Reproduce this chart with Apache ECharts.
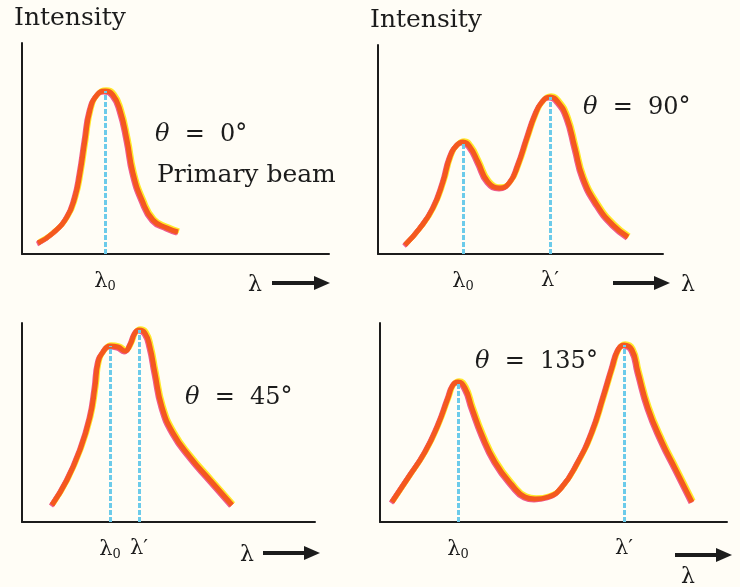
<!DOCTYPE html>
<html>
<head>
<meta charset="utf-8">
<title>Compton scattering spectra</title>
<script src="https://cdn.jsdelivr.net/npm/echarts@6/dist/echarts.min.js"></script>
<style>
  html, body { margin: 0; padding: 0; background: #fffdf6; }
  #chart { width: 740px; height: 587px; }
</style>
</head>
<body>
<div id="chart"></div>
<script>
// wavelength / intensity (arbitrary units)
const lambda0deg = [16, 31, 45, 53, 58, 63, 68, 75, 83, 91, 98, 105, 111, 120, 131, 145, 156]
const intensity0deg = [11, 21, 37, 57, 81, 114, 144, 159, 163, 159, 144, 114, 81, 54, 34, 26, 22]

const lambda90deg = [27, 42, 55, 65, 72, 79, 85, 92, 100, 110, 122, 132, 140, 149, 157, 164, 172, 180, 189, 197, 205, 219, 235, 250]
const intensity90deg = [9, 26, 46, 72, 97, 109, 112, 107, 92, 72, 66, 72, 89, 116, 139, 152, 157, 152, 136, 106, 76, 49, 29, 17]

const lambda45deg = [30, 45, 58, 68, 73, 76, 81, 88, 96, 103, 108, 113, 117, 123, 128, 133, 140, 151, 168, 188, 210]
const intensity45deg = [17, 42, 72, 105, 135, 159, 170, 176, 175, 171, 177, 189, 192, 189, 175, 149, 115, 89, 65, 42, 17]

const lambda135deg = [12, 28, 45, 58, 68, 73, 78, 85, 92, 102, 115, 132, 145, 155, 168, 182, 198, 212, 223, 232, 238, 244, 252, 258, 268, 282, 295, 312]
const intensity135deg = [20, 44, 70, 97, 124, 137, 140, 134, 114, 87, 60, 37, 25, 23, 25, 35, 60, 90, 124, 154, 172, 177, 172, 150, 114, 80, 54, 20]

// peak positions (dashed lines) and their tick labels
const peaks0deg = [83]
const peaks90deg = [85, 172]
const peaks45deg = [88, 117]
const peaks135deg = [78, 244]
const peakLabels1 = ['lambda0']
const peakLabels2 = ['lambda0', 'lambdaPrime']

const angleLabels = ['0°', '90°', '45°', '135°']

const chart = echarts.init(document.getElementById('chart'))

const FONT = '"DejaVu Serif", "Liberation Serif", serif'
const INK = '#1c1c1c'

const panels = [
  { xs: lambda0deg, ys: intensity0deg, peaks: peaks0deg, labels: peakLabels1, grid: { left: 22, top: 43, width: 307, height: 211 }, yName: 'Intensity' },
  { xs: lambda90deg, ys: intensity90deg, peaks: peaks90deg, labels: peakLabels2, grid: { left: 378, top: 45, width: 285, height: 209 }, yName: 'Intensity' },
  { xs: lambda45deg, ys: intensity45deg, peaks: peaks45deg, labels: peakLabels2, grid: { left: 22, top: 323, width: 293, height: 199 }, yName: '' },
  { xs: lambda135deg, ys: intensity135deg, peaks: peaks135deg, labels: peakLabels2, grid: { left: 380, top: 323, width: 347, height: 199 }, yName: '' }
]

const labelRich = {
  l: { fontFamily: FONT, fontSize: 21, color: INK },
  s: { fontFamily: FONT, fontSize: 13, color: INK, padding: [10, 0, 0, 0] }
}

function fmtPeak(p) {
  return function (value) {
    const i = p.peaks.indexOf(value)
    if (i < 0) return ''
    return p.labels[i] === 'lambda0' ? '{l|λ}{s|0}' : '{l|λ′}'
  }
}

const grids = [], xAxes = [], yAxes = [], series = []

panels.forEach(function (p, i) {
  grids.push(p.grid)
  xAxes.push({
    type: 'value', gridIndex: i, min: 0, max: p.grid.width,
    axisLine: { show: true, onZero: false, lineStyle: { color: INK, width: 2 } },
    axisTick: { show: false },
    splitLine: { show: false },
    axisLabel: { customValues: p.peaks, formatter: fmtPeak(p), rich: labelRich, margin: 16 }
  })
  yAxes.push({
    type: 'value', gridIndex: i, min: 0, max: p.grid.height,
    name: p.yName, nameLocation: 'end', nameGap: 12,
    nameTextStyle: { fontFamily: FONT, fontSize: 25, color: INK, align: 'left', padding: [0, 0, 0, -8] },
    axisLine: { show: true, lineStyle: { color: INK, width: 2 } },
    axisTick: { show: false },
    axisLabel: { show: false },
    splitLine: { show: false }
  })
  const data = p.xs.map(function (x, k) { return [x, p.ys[k]] })
  const marks = p.peaks.map(function (x) {
    const top = p.ys[p.xs.indexOf(x)]
    return [{ coord: [x, 0] }, { coord: [x, top] }]
  })
  // pink fringe underneath
  series.push({
    type: 'line', xAxisIndex: i, yAxisIndex: i, data: data,
    smooth: 0.5, symbol: 'none', silent: true,
    lineStyle: { width: 5, color: '#ee5a7e', shadowColor: '#ef5a8c', shadowOffsetX: -1, shadowOffsetY: 1, shadowBlur: 0 },
    markLine: {
      silent: true, symbol: 'none', label: { show: false },
      lineStyle: { color: '#6ccbea', type: [5, 2], width: 3 },
      data: marks
    }
  })
  // orange stroke with yellow highlight
  series.push({
    type: 'line', xAxisIndex: i, yAxisIndex: i, data: data,
    smooth: 0.5, symbol: 'none', silent: true,
    lineStyle: { width: 5, color: '#f4581f', shadowColor: '#ffe82a', shadowOffsetX: 1.2, shadowOffsetY: -1.2, shadowBlur: 0 }
  })
})

function arrow(x, y, len) {
  return {
    type: 'group', silent: true,
    children: [
      { type: 'line', shape: { x1: x, y1: y, x2: x + len - 10, y2: y }, style: { stroke: INK, lineWidth: 4 } },
      { type: 'polygon', shape: { points: [[x + len - 16, y - 7], [x + len, y], [x + len - 16, y + 7]] }, style: { fill: INK } }
    ]
  }
}

function lam(x, y) {
  return { type: 'text', x: x, y: y, style: { text: 'λ', font: '22px ' + FONT, fill: INK, align: 'center', verticalAlign: 'middle' } }
}

function theta(x, y, deg) {
  return {
    type: 'text', x: x, y: y,
    style: {
      text: '{i|θ}  =  ' + deg, fontFamily: FONT, fontSize: 24, fill: INK, verticalAlign: 'middle',
      rich: { i: { fontFamily: FONT, fontSize: 24, fontStyle: 'italic', fill: INK } }
    }
  }
}

const graphic = [
  lam(255, 285), arrow(272, 283, 58),
  arrow(613, 283, 57), lam(688, 285),
  lam(247, 555), arrow(263, 553, 57),
  arrow(675, 555, 57), lam(688, 577),
  theta(155, 135, angleLabels[0]),
  { type: 'text', x: 157, y: 175, style: { text: 'Primary beam', font: '25px ' + FONT, fill: INK, verticalAlign: 'middle' } },
  theta(583, 108, angleLabels[1]),
  theta(185, 398, angleLabels[2]),
  theta(475, 362, angleLabels[3])
]

chart.setOption({
  backgroundColor: '#fffdf6',
  animation: false,
  grid: grids,
  xAxis: xAxes,
  yAxis: yAxes,
  series: series,
  graphic: graphic
})
</script>
</body>
</html>
